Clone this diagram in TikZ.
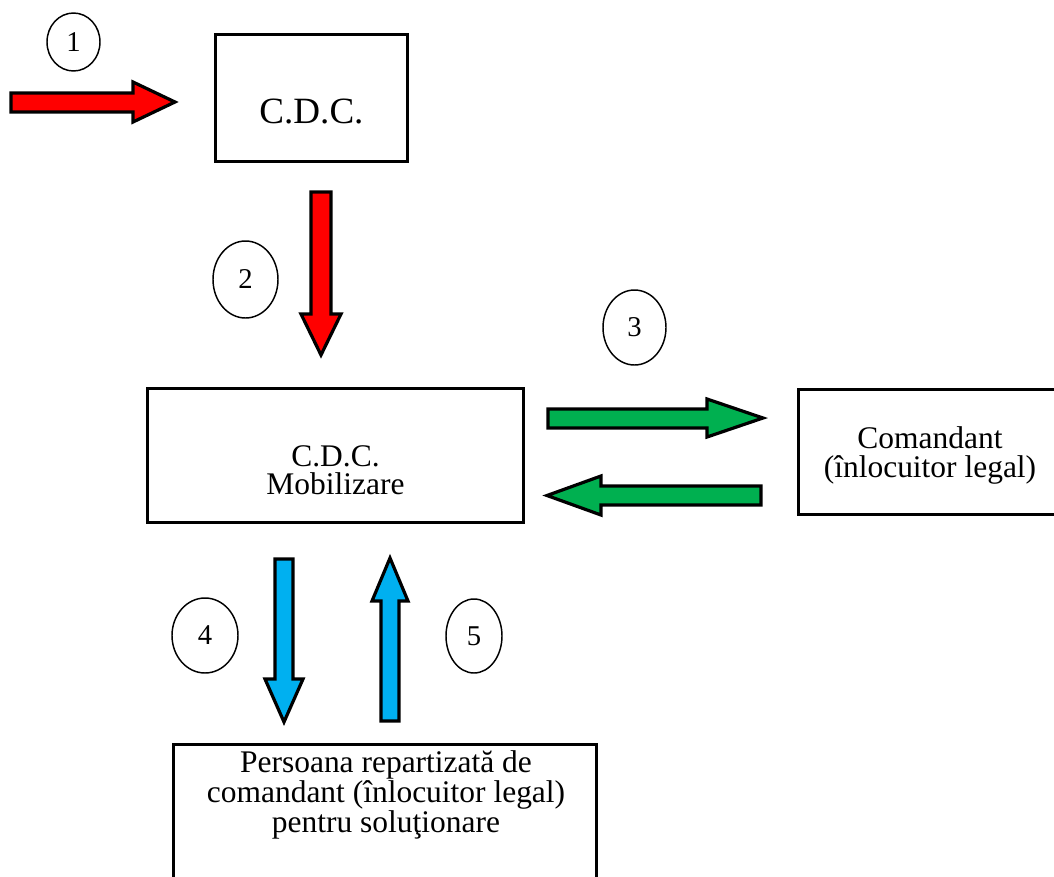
\documentclass[tikz,border=0pt]{standalone}
\usepackage{fontspec}
\setmainfont{Liberation Serif}
\usetikzlibrary{shapes.geometric}
\newlength\pxu
\setlength\pxu{0.75pt}
\definecolor{arrred}{HTML}{FF0000}
\definecolor{arrgreen}{HTML}{00B050}
\definecolor{arrblue}{HTML}{00B0F0}
\tikzset{
  box/.style={draw=black, line width=2.5pt, rectangle, inner sep=0pt},
  boxtext/.style={align=center, inner sep=0pt, font=\fontsize{23.6}{21.5}\selectfont},
  numcircle/.style={draw=black, line width=1.1pt, ellipse, inner sep=0pt,
    font=\fontsize{21.5}{24}\selectfont},
  blockarrow/.style={draw=black, line width=2.4pt, line join=miter, miter limit=10},
}
\begin{document}
\begin{tikzpicture}[x=0.75pt, y=-0.75pt]
\useasboundingbox (0,0) rectangle (1054,876);
\clip (0,0) rectangle (1054,876);

% boxes
\node[box, minimum width=191.8\pxu, minimum height=126.8\pxu] (cdc) at (311.5,98) {};
\node[inner sep=0pt, font=\fontsize{27.8}{30}\selectfont] (cdctxt) at (311.5,111.5) {C.D.C.};

\node[box, minimum width=375.8\pxu, minimum height=133.8\pxu] (mob) at (335.5,455.5) {};
\node[boxtext, font=\fontsize{23.6}{21}\selectfont] (mobtxt) at (335.5,470.5) {C.D.C.\\Mobilizare};

\node[box, minimum width=262.8\pxu, minimum height=124.8\pxu] (cmd) at (930,452) {};
\node[boxtext, font=\fontsize{23.6}{21.75}\selectfont] (cmdtxt) at (930,455) {Comandant\\(înlocuitor legal)};

\node[box, minimum width=422.8\pxu, minimum height=155.4\pxu] (pers) at (385,822.3) {};
\node[boxtext, font=\fontsize{23.6}{22.5}\selectfont] (perstxt) at (386,795)
  {Persoana repartizată de\\comandant (înlocuitor legal)\\pentru soluţionare};

% numbered circles
\node[numcircle, minimum width=53\pxu, minimum height=58\pxu] (n1) at (73.5,42) {1};
\node[numcircle, minimum width=65\pxu, minimum height=77\pxu] (n2) at (245.5,279.5) {2};
\node[numcircle, minimum width=63\pxu, minimum height=75\pxu] (n3) at (634.5,327.5) {3};
\node[numcircle, minimum width=66\pxu, minimum height=75\pxu] (n4) at (205,635.5) {4};
\node[numcircle, minimum width=56\pxu, minimum height=74\pxu] (n5) at (474,636) {5};

% block arrows
\filldraw[blockarrow, fill=arrred]
  (11,93) -- (133,93) -- (133,82) -- (175,102) -- (133,122) -- (133,112) -- (11,112) -- cycle;
\filldraw[blockarrow, fill=arrred]
  (311,192) -- (331,192) -- (331,314) -- (341,314) -- (321,355) -- (301,314) -- (311,314) -- cycle;
\filldraw[blockarrow, fill=arrgreen]
  (548,409) -- (707,409) -- (707,399) -- (763,418) -- (707,437) -- (707,428) -- (548,428) -- cycle;
\filldraw[blockarrow, fill=arrgreen]
  (761,486) -- (601,486) -- (601,476) -- (547,495.5) -- (601,515) -- (601,505) -- (761,505) -- cycle;
\filldraw[blockarrow, fill=arrblue]
  (275,559) -- (293,559) -- (293,679) -- (303,679) -- (284,722) -- (265,679) -- (275,679) -- cycle;
\filldraw[blockarrow, fill=arrblue]
  (381,721) -- (381,601) -- (372,601) -- (390,558) -- (408,601) -- (399,601) -- (399,721) -- cycle;
\end{tikzpicture}
\end{document}
